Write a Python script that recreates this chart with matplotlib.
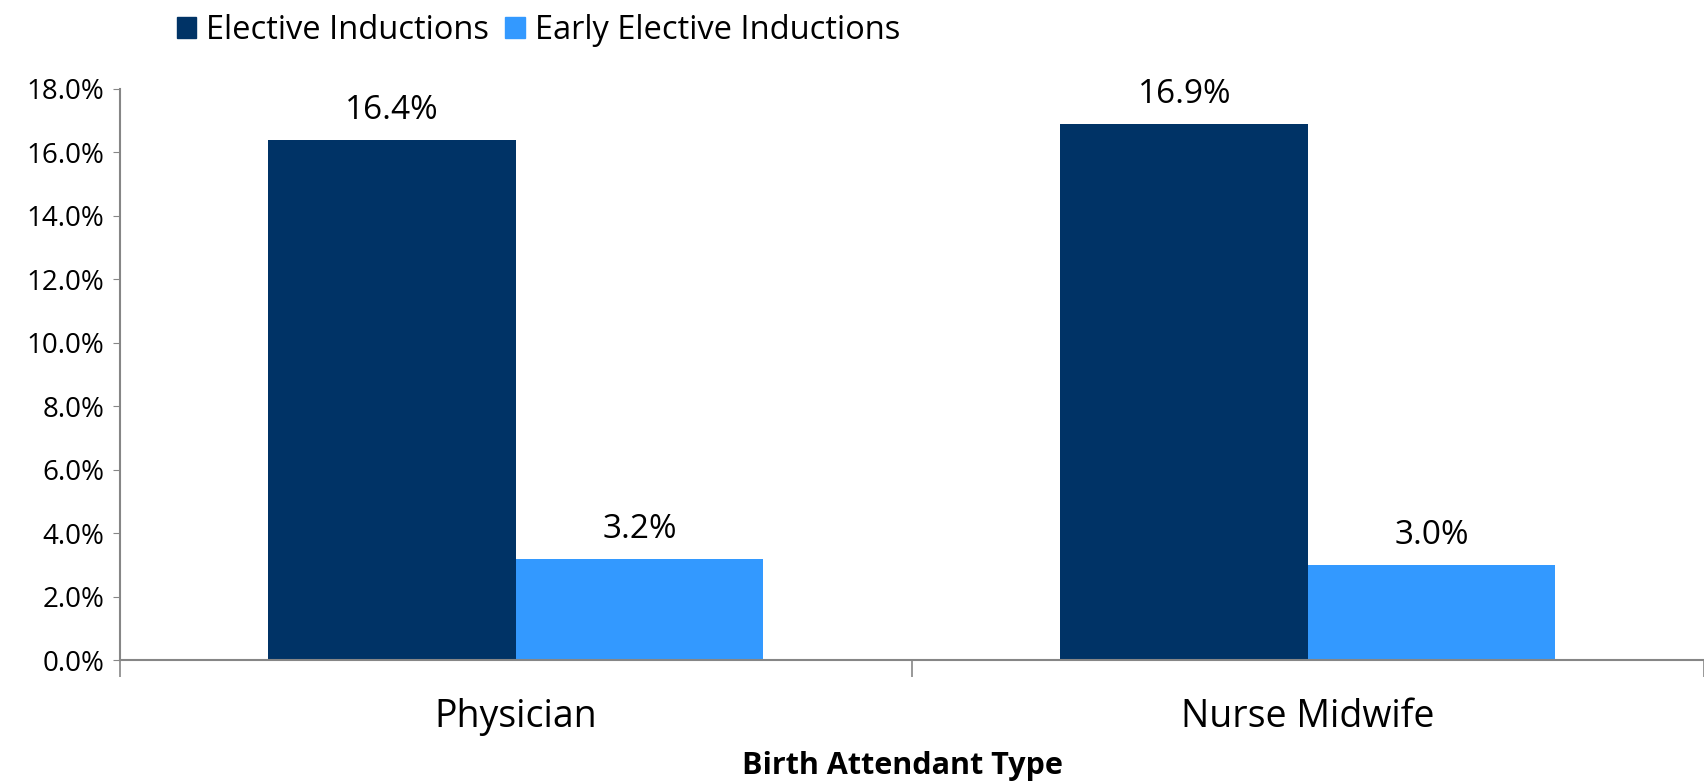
import matplotlib.pyplot as plt
from matplotlib.patches import Patch
from matplotlib.ticker import FuncFormatter
import numpy as np

plt.rcParams['font.family'] = ['Open Sans', 'DejaVu Sans']

# Data
categories = ["Physician", "Nurse Midwife"]
series_names = ["Elective Inductions", "Early Elective Inductions"]
elective = [16.4, 16.9]
early_elective = [3.2, 3.0]

dark = "#003366"
light = "#3399FF"
axis_gray = "#868686"

fig = plt.figure(figsize=(17.04, 7.84), dpi=100)
ax = fig.add_axes([0.0704, 0.158, 0.9296, 0.7285])

x = np.arange(len(categories))
w = 0.3125
b1 = ax.bar(x - w / 2, elective, width=w, color=dark)
b2 = ax.bar(x + w / 2, early_elective, width=w, color=light)

for bars, vals in [(b1, elective), (b2, early_elective)]:
    for bar, v in zip(bars, vals):
        ax.annotate(f"{v:.1f}%", (bar.get_x() + bar.get_width() / 2, v),
                    xytext=(0, 9), textcoords="offset points",
                    ha="center", va="bottom", fontsize=24)

ax.set_ylim(0, 18)
ax.set_xlim(-0.5, 1.5)
ax.set_yticks(np.arange(0, 18.1, 2))
ax.yaxis.set_major_formatter(FuncFormatter(lambda v, p: f"{v:.1f}%"))
ax.tick_params(axis="y", labelsize=20, length=5, color=axis_gray, pad=6)

ax.set_xticks(x)
ax.set_xticklabels(categories, fontsize=27)
ax.tick_params(axis="x", length=0, pad=27)
ax.set_xticks([-0.5, 0.5, 1.5], minor=True)
ax.tick_params(axis="x", which="minor", length=12, color=axis_gray, width=1.2)

for s in ["top", "right"]:
    ax.spines[s].set_visible(False)
for s in ["left", "bottom"]:
    ax.spines[s].set_color(axis_gray)
    ax.spines[s].set_linewidth(1.5)

fig.text(902 / 1704, 1 - 766 / 784, "Birth Attendant Type", ha="center", va="center",
         fontsize=22, fontweight="bold")

handles = [Patch(color=dark), Patch(color=light)]
fig.legend(handles, series_names, loc="center left", bbox_to_anchor=(0.096, 0.961),
           ncol=2, frameon=False, fontsize=23.5, handlelength=0.6, handleheight=0.6,
           handletextpad=0.3, columnspacing=0.5, borderaxespad=0)

fig.savefig("out.png", dpi=100)
